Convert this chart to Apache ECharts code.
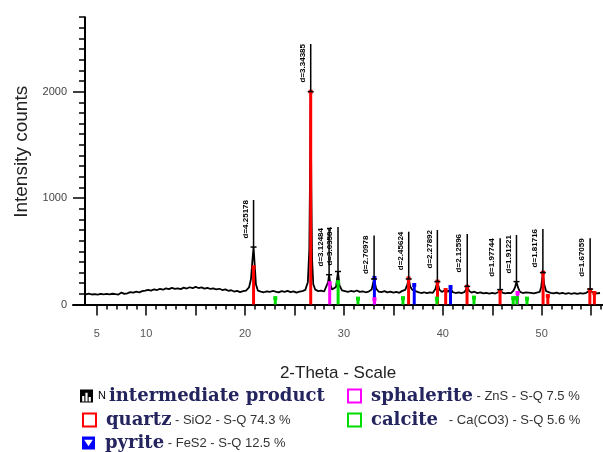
<!DOCTYPE html>
<html>
<head>
<meta charset="utf-8">
<script src="https://cdn.jsdelivr.net/npm/echarts@6/dist/echarts.min.js"></script>
<style>
  html, body { margin: 0; padding: 0; background: #fff; }
  #chart { width: 603px; height: 452px; }
</style>
</head>
<body>
<div id="chart"></div>
<script>
// measured pattern (2-theta, counts)
const twoTheta = [
  3.9, 4.2, 4.5, 4.8, 5.1, 5.4, 5.7, 6.0, 6.3, 6.6, 6.9, 7.2, 7.5, 7.8, 8.1, 8.4, 8.7, 9.0, 9.3, 9.6,
  9.9, 10.2, 10.5, 10.8, 11.1, 11.4, 11.7, 12.0, 12.3, 12.6, 12.9, 13.2, 13.5, 13.8, 14.1, 14.4, 14.7, 15.0, 15.3, 15.6,
  15.9, 16.2, 16.5, 16.8, 17.1, 17.4, 17.7, 18.0, 18.3, 18.6, 18.9, 19.2, 19.5, 19.8, 20.1, 20.4, 20.6, 20.75, 20.86, 20.97,
  21.1, 21.3, 21.6, 21.9, 22.2, 22.5, 22.8, 23.1, 23.4, 23.7, 24.0, 24.3, 24.6, 24.9, 25.2, 25.5, 25.8, 26.1, 26.35, 26.5,
  26.58, 26.64, 26.7, 26.78, 26.9, 27.1, 27.4, 27.7, 28.0, 28.2, 28.4, 28.5, 28.62, 28.8, 29.0, 29.2, 29.4, 29.55, 29.8, 30.1,
  30.4, 30.7, 31.0, 31.3, 31.6, 31.9, 32.2, 32.5, 32.8, 33.05, 33.25, 33.5, 33.8, 34.1, 34.4, 34.7, 35.0, 35.3, 35.6, 35.9,
  36.2, 36.4, 36.55, 36.7, 36.9, 37.05, 37.25, 37.5, 37.8, 38.1, 38.4, 38.7, 39.0, 39.25, 39.45, 39.65, 39.9, 40.1, 40.3, 40.5,
  40.8, 41.0, 41.3, 41.6, 41.9, 42.2, 42.35, 42.47, 42.65, 42.9, 43.2, 43.5, 43.8, 44.1, 44.4, 44.7, 45.0, 45.3, 45.6, 45.8,
  46.0, 46.3, 46.6, 46.9, 47.15, 47.3, 47.45, 47.6, 47.8, 48.1, 48.4, 48.6, 48.9, 49.2, 49.5, 49.8, 49.95, 50.05, 50.12, 50.25,
  50.45, 50.65, 50.9, 51.2, 51.5, 51.8, 52.1, 52.4, 52.7, 53.0, 53.3, 53.6, 53.9, 54.2, 54.5, 54.75, 54.9, 55.05, 55.3, 55.6,
  55.9
];
const counts = [
  96, 102, 94, 98, 93, 100, 96, 99, 95, 101, 97, 94, 112, 100, 104, 117, 112, 120, 114, 125,
  130, 138, 131, 143, 136, 147, 139, 151, 144, 156, 147, 152, 145, 158, 150, 162, 153, 166, 155, 161,
  149, 157, 146, 152, 141, 148, 136, 142, 129, 134, 122, 128, 117, 125, 131, 160, 240, 420, 540, 380,
  190, 130, 122, 115, 124, 118, 127, 120, 114, 125, 119, 128, 116, 123, 112, 120, 126, 138, 210, 520,
  1300, 2000, 1100, 420, 190, 140, 126, 131, 122, 138, 210, 280, 190, 140, 128, 165, 310, 180, 132, 125,
  118, 127, 120, 132, 119, 124, 115, 121, 140, 240, 150, 122, 117, 125, 114, 120, 112, 118, 110, 128,
  138, 185, 240, 170, 140, 155, 125, 116, 108, 115, 106, 113, 110, 145, 215, 140, 118, 112, 140, 118,
  150, 116, 108, 114, 106, 118, 140, 170, 128, 112, 120, 107, 113, 104, 110, 102, 109, 103, 115, 140,
  112, 104, 110, 106, 130, 160, 215, 160, 118, 108, 114, 122, 110, 104, 112, 118, 165, 240, 300, 190,
  125, 130, 110, 104, 112, 103, 110, 101, 108, 100, 107, 99, 106, 102, 110, 125, 145, 120, 118, 104,
  108
];

// reference phase sticks
const quartzPos = [20.86, 26.64, 36.54, 39.46, 40.29, 42.45, 45.79, 50.14, 50.62, 54.87, 55.33];
const quartzInt = [350, 2000, 245, 215, 136, 167, 127, 299, 80, 136, 108];
const pyritePos = [33.08, 37.11, 40.78];
const pyriteInt = [250, 183, 164];
const sphaleritePos = [28.56, 33.09, 47.56];
const sphaleriteInt = [200, 50, 108];
const calcitePos = [23.06, 29.41, 31.42, 35.97, 39.40, 43.15, 47.12, 47.49, 48.51];
const calciteInt = [60, 210, 55, 60, 55, 65, 60, 60, 55];

// d-spacing labels
const peakPos = [20.86, 26.64, 28.5, 29.4, 33.05, 36.55, 39.45, 42.47, 45.8, 47.45, 50.12, 54.9];
const peakTop = [540, 2000, 280, 310, 240, 240, 215, 170, 140, 215, 300, 145];
const labelTop = [982, 2448, 719, 728, 648, 684, 700, 663, 622, 653, 710, 622];
const dLabels = ['d=4.25178', 'd=3.34385', 'd=3.12484', 'd=3.03584', 'd=2.70978', 'd=2.45624',
  'd=2.27892', 'd=2.12596', 'd=1.97744', 'd=1.91221', 'd=1.81716', 'd=1.67059'];

// axis ticks
const xLabelValues = [5, 10, 20, 30, 40, 50];
const xMajorTicks = [5, 10, 15, 20, 25, 30, 35, 40, 45, 50, 55];
const xMinorTicks = [6, 7, 8, 9, 11, 12, 13, 14, 16, 17, 18, 19, 21, 22, 23, 24, 26, 27, 28, 29,
  31, 32, 33, 34, 36, 37, 38, 39, 41, 42, 43, 44, 46, 47, 48, 49, 51, 52, 53, 54, 56];
const yLabelValues = [0, 1000, 2000];

// legend texts
const sampleName = 'intermediate product';
const phaseNames = ['quartz', 'pyrite', 'sphalerite', 'calcite'];
const phaseInfo = [' - SiO2 - S-Q 74.3 %', ' - FeS2 - S-Q 12.5 %', ' - ZnS - S-Q 7.5 %', '   - Ca(CO3) - S-Q 5.6 %'];
const phaseColors = ['#ff0000', '#0000ff', '#ff00ff', '#00dd00'];

const chart = echarts.init(document.getElementById('chart'));

function zip(a, b) {
  return a.map((v, i) => [v, b[i]]);
}

function stickRenderer(color) {
  return function (params, api) {
    const top = api.coord([api.value(0), api.value(1)]);
    const base = api.coord([api.value(0), 0]);
    return {
      type: 'group',
      children: [
        { type: 'rect', shape: { x: top[0] - 1.5, y: top[1], width: 3, height: base[1] - top[1] }, style: { fill: color } },
        { type: 'rect', shape: { x: top[0] - 2, y: top[1] - 2, width: 4, height: 4 }, style: { fill: color } }
      ]
    };
  };
}

function labelRenderer(params, api) {
  const x = api.value(0);
  const p0 = api.coord([x, api.value(1)]);
  const p1 = api.coord([x, api.value(2)]);
  return {
    type: 'group',
    children: [
      { type: 'line', shape: { x1: p0[0], y1: p0[1], x2: p1[0], y2: p1[1] }, style: { stroke: '#000', lineWidth: 1.5 } },
      { type: 'line', shape: { x1: p0[0] - 3, y1: p0[1], x2: p0[0] + 3, y2: p0[1] }, style: { stroke: '#000', lineWidth: 1.5 } },
      {
        type: 'text', x: p1[0] - 8, y: p1[1], rotation: Math.PI / 2,
        style: {
          text: dLabels[params.dataIndex], fill: '#000', align: 'right', verticalAlign: 'middle',
          font: 'bold 8px "Liberation Sans", Arial, sans-serif'
        }
      }
    ]
  };
}

const sampleIcon = 'path://M0,0H12V12H0Z M2,11H4V6H2Z M5,11H7V3H5Z M8,11H10V7H8Z';
const pyriteIcon = 'path://M0,0H12V12H0Z M2,3L6,9L10,3Z';

const richStyles = {
  n: { fontSize: 11, fontFamily: '"Liberation Sans", Arial, sans-serif', color: '#000', padding: [0, 3, 0, 0] },
  b0: { fontSize: 18, fontWeight: 'bold', fontFamily: '"DejaVu Serif", serif', color: '#24245e' },
  b: { fontSize: 18, fontWeight: 'bold', fontFamily: '"DejaVu Serif", serif', color: '#24245e', padding: [0, 0, 0, 5] },
  s: { fontSize: 13, fontFamily: '"Liberation Sans", Arial, sans-serif', color: '#333' }
};

function legendFormatter(name) {
  if (name === sampleName) return '{n|N}{b0|' + name + '}';
  const i = phaseNames.indexOf(name);
  return '{b|' + name + '}{s|' + phaseInfo[i] + '}';
}

function boxItem(i) {
  return { name: phaseNames[i], icon: 'rect', itemStyle: { color: '#fff', borderColor: phaseColors[i], borderWidth: 2 } };
}

// one legend block per row so each row sits where the reference puts it
function legendRow(left, top, item) {
  return {
    left: left, top: top, orient: 'vertical', itemWidth: 13, itemHeight: 13, padding: 0,
    selectedMode: false, formatter: legendFormatter, textStyle: { rich: richStyles },
    data: [item]
  };
}

const option = {
  animation: false,
  backgroundColor: '#fff',
  grid: [
    { left: 73, right: 0, top: 17.2, bottom: 147.5 },
    { left: 73, right: 0, top: 17.2, bottom: 147.5 }
  ],
  legend: [
    legendRow(80, 387, { name: sampleName, icon: sampleIcon, itemStyle: { color: '#000', borderWidth: 0 } }),
    legendRow(82, 411, boxItem(0)),
    legendRow(82, 434, { name: phaseNames[1], icon: pyriteIcon, itemStyle: { color: '#0000ff', borderWidth: 0 } }),
    legendRow(347, 387, boxItem(2)),
    legendRow(347, 411, boxItem(3))
  ],
  xAxis: [
    {
      type: 'value', gridIndex: 0, min: 2.6, max: 56.2,
      name: '2-Theta - Scale', nameLocation: 'middle', nameGap: 60,
      nameTextStyle: { fontSize: 17, color: '#222', fontFamily: '"Liberation Sans", Arial, sans-serif' },
      axisLine: { lineStyle: { color: '#000', width: 2 } },
      axisTick: { customValues: xMajorTicks, length: 11, lineStyle: { color: '#000', width: 1.5 } },
      axisLabel: { customValues: xLabelValues, margin: 24, fontSize: 11, color: '#555', fontFamily: '"Liberation Sans", Arial, sans-serif' },
      splitLine: { show: false }
    },
    {
      type: 'value', gridIndex: 1, min: 2.6, max: 56.2,
      axisLine: { show: false },
      axisTick: { customValues: xMinorTicks, length: 5, lineStyle: { color: '#000', width: 1.5 } },
      axisLabel: { show: false },
      splitLine: { show: false }
    }
  ],
  yAxis: [
    {
      type: 'value', gridIndex: 0, min: 0, max: 2700, offset: -12,
      name: 'Intensity counts', nameLocation: 'middle', nameGap: 50,
      nameTextStyle: { fontSize: 19, color: '#222', fontFamily: '"Liberation Sans", Arial, sans-serif', padding: [0, 0, 0, 18] },
      axisLine: { show: true, lineStyle: { color: '#000', width: 2 } },
      axisTick: { show: true, customValues: yLabelValues, length: 12, lineStyle: { color: '#000', width: 1.5 } },
      axisLabel: {
        customValues: yLabelValues, margin: 18, fontSize: 11, color: '#444',
        fontFamily: '"Liberation Sans", Arial, sans-serif', formatter: (v) => String(v)
      },
      splitLine: { show: false }
    },
    {
      type: 'value', gridIndex: 1, min: 0, max: 2700, interval: 100, offset: -12,
      axisLine: { show: false },
      axisTick: { show: true, length: 6, lineStyle: { color: '#000', width: 1.5 } },
      axisLabel: { show: false },
      splitLine: { show: false }
    }
  ],
  series: [
    {
      name: sampleName, type: 'line', xAxisIndex: 0, yAxisIndex: 0,
      data: zip(twoTheta, counts), showSymbol: false, symbol: 'none',
      lineStyle: { color: '#000', width: 1.8 }, itemStyle: { color: '#000' }, z: 2
    },
    { name: phaseNames[0], type: 'custom', renderItem: stickRenderer(phaseColors[0]), data: zip(quartzPos, quartzInt), z: 3 },
    { name: phaseNames[1], type: 'custom', renderItem: stickRenderer(phaseColors[1]), data: zip(pyritePos, pyriteInt), z: 3 },
    { name: phaseNames[2], type: 'custom', renderItem: stickRenderer(phaseColors[2]), data: zip(sphaleritePos, sphaleriteInt), z: 3 },
    { name: phaseNames[3], type: 'custom', renderItem: stickRenderer(phaseColors[3]), data: zip(calcitePos, calciteInt), z: 3 },
    {
      name: 'd-spacing', type: 'custom', renderItem: labelRenderer, clip: false, z: 4,
      data: peakPos.map((p, i) => [p, peakTop[i], labelTop[i]])
    }
  ]
};

chart.setOption(option);
</script>
</body>
</html>
